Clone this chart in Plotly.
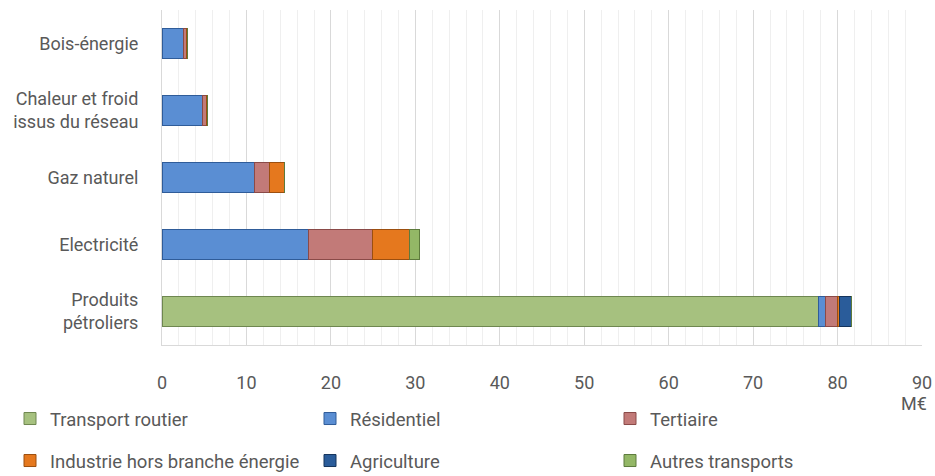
import plotly.graph_objects as go

categories = ["Produits<br>pétroliers", "Electricité", "Gaz naturel",
              "Chaleur et froid<br>issus du réseau", "Bois-énergie"]
series_names = ["Transport routier", "Résidentiel", "Tertiaire",
                "Industrie hors branche énergie", "Agriculture", "Autres transports"]
transport_routier = [77.7, 0, 0, 0, 0]
residentiel = [0.9, 17.4, 10.9, 4.85, 2.6]
tertiaire = [1.4, 7.5, 1.85, 0.45, 0.3]
industrie = [0.2, 4.35, 1.7, 0.05, 0.1]
agriculture = [1.5, 0.1, 0.05, 0.0, 0.05]
autres_transports = [0, 1.2, 0, 0, 0]
x_ticks = [0, 10, 20, 30, 40, 50, 60, 70, 80, 90]

values = [transport_routier, residentiel, tertiaire, industrie, agriculture, autres_transports]
colors = ["#A6C17F", "#5A8ED3", "#C27A78", "#E5781E", "#2A5C9A", "#93B766"]
edges = ["#6E8750", "#2F5C99", "#8A4A48", "#9C4F0F", "#15345C", "#5D7A3C"]

FONT = "Roboto, sans-serif"
GREY = "#595959"

W, H = 935, 476
L, R, T, B = 162, 13, 10, 476 - 345
plot_h = H - T - B
plot_w = W - L - R


def py(y_screen):
    return (H - B - y_screen) / plot_h


def px(x_screen):
    return (x_screen - L) / plot_w


fig = go.Figure()
for i, (name, vals) in enumerate(zip(series_names, values)):
    fig.add_trace(go.Bar(
        y=categories, x=vals, name=name, orientation="h",
        marker=dict(color=colors[i], line=dict(color=edges[i], width=1)),
        width=0.45,
        legend="legend" if i < 3 else "legend2",
    ))

legend_common = dict(
    orientation="h", xanchor="left", yanchor="middle",
    font=dict(family=FONT, size=18.5, color=GREY),
    entrywidth=255, entrywidthmode="pixels", traceorder="normal",
    bgcolor="rgba(0,0,0,0)", borderwidth=0, itemclick=False,
)

fig.update_layout(
    width=W, height=H,
    margin=dict(l=L, r=R, t=T, b=B, autoexpand=False),
    barmode="stack",
    plot_bgcolor="white", paper_bgcolor="white",
    font=dict(family=FONT, size=18, color=GREY),
    legend=dict(x=px(10), y=py(419), **legend_common),
    legend2=dict(x=px(10), y=py(461), **legend_common),
    xaxis=dict(
        range=[0, 90], tickvals=x_ticks, ticktext=[str(v) for v in x_ticks],
        showgrid=True, gridcolor="#D9D9D9", gridwidth=1,
        minor=dict(dtick=2, showgrid=True, gridcolor="#EFEFEF", gridwidth=1),
        zeroline=False, showline=True, linecolor="#D9D9D9", linewidth=1,
        ticks="", ticklabelstandoff=21, automargin=False,
        tickfont=dict(family=FONT, size=18, color=GREY),
        fixedrange=True,
    ),
    yaxis=dict(
        categoryorder="array", categoryarray=categories,
        showline=True, linecolor="#D9D9D9", linewidth=1,
        ticks="", ticklabelstandoff=19, automargin=False,
        tickfont=dict(family=FONT, size=18, color=GREY),
        fixedrange=True,
    ),
    annotations=[dict(
        text="M€", xref="paper", yref="paper", x=px(929), y=py(403),
        xanchor="right", yanchor="middle", showarrow=False,
        font=dict(family=FONT, size=18, color=GREY),
    )],
)

fig.write_html(
    "out.html",
    config={"displayModeBar": False},
    post_script="document.body.style.margin='0';"
                "document.documentElement.style.overflow='hidden';",
)
